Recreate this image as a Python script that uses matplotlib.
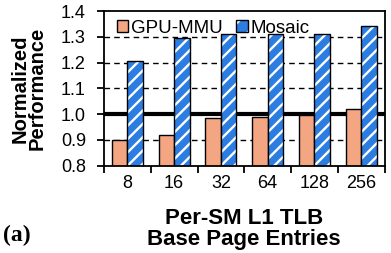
import matplotlib
matplotlib.use("Agg")
import matplotlib.pyplot as plt
from matplotlib.patches import Patch
from matplotlib.legend_handler import HandlerTuple
import numpy as np

categories = ["8", "16", "32", "64", "128", "256"]
gpu_mmu = [0.90, 0.92, 0.985, 0.99, 0.995, 1.02]
mosaic = [1.205, 1.295, 1.31, 1.31, 1.31, 1.34]
series_names = ["GPU-MMU", "Mosaic"]
yticks = [0.8, 0.9, 1.0, 1.1, 1.2, 1.3, 1.4]

DPI = 120
S = 100.0 / DPI  # sizes below are expressed as points at 100 dpi

plt.rcParams['font.family'] = ['Liberation Sans', 'DejaVu Sans']
plt.rcParams['hatch.linewidth'] = 1.7 * S

orange = "#f4a582"
blue = "#2b7de2"

fig = plt.figure(figsize=(391 / DPI, 253 / DPI), dpi=DPI)
L, R, T, B = 104 / 391, 384.5 / 391, 1 - 11 / 253, 1 - 165.7 / 253
ax = fig.add_axes([L, B, R - L, T - B])

x = np.arange(len(categories))
w = 0.33

for yv in yticks[1:-1]:
    if abs(yv - 1.0) < 1e-9:
        ax.axhline(yv, color='black', lw=3.0 * S, zorder=1)
    else:
        ax.axhline(yv, color='black', lw=1.0 * S, ls=(0, (4, 3)), zorder=1)

ax.bar(x - w / 2, gpu_mmu, w, color=orange, edgecolor='black', lw=1.0 * S, zorder=2)
ax.bar(x + w / 2, mosaic, w, color=blue, edgecolor='white', lw=0, hatch='///', zorder=2)
ax.bar(x + w / 2, mosaic, w, fill=False, edgecolor='black', lw=1.0 * S, zorder=3)

h_orange = Patch(facecolor=orange, edgecolor='black', lw=1.0 * S)
h_blue = (Patch(facecolor=blue, edgecolor='white', hatch='//', lw=0),
          Patch(fill=False, edgecolor='black', lw=1.0 * S))
leg = ax.legend([h_orange, h_blue], series_names, loc='center left',
                bbox_to_anchor=(0.045, 0.89),
                handler_map={tuple: HandlerTuple(ndivide=1, pad=0)},
                ncol=2, frameon=False, fontsize=13.5 * S, handlelength=0.62,
                handleheight=0.62, handletextpad=0.15, columnspacing=0.7,
                borderpad=0, borderaxespad=0)

ax.set_xlim(-0.5, len(categories) - 0.5)
ax.set_ylim(0.8, 1.4)
ax.set_yticks(yticks)
ax.set_yticklabels([f"{v:.1f}" for v in yticks], fontsize=13 * S)
ax.set_xticks(x)
ax.set_xticklabels(categories, fontsize=13 * S)
ax.tick_params(axis='x', which='major', length=0, pad=7 * S)
ax.set_xticks(np.arange(len(categories) + 1) - 0.5, minor=True)
ax.tick_params(axis='x', which='minor', length=5 * S, width=1.3 * S, direction='out')
ax.tick_params(axis='y', length=5 * S, width=1.3 * S, direction='out', pad=8 * S)
for s in ax.spines.values():
    s.set_linewidth(1.3 * S)

ax.set_xlabel("Per-SM L1 TLB\nBase Page Entries", fontsize=16 * S, fontweight='bold',
              linespacing=1.05, labelpad=11 * S)
ax.set_ylabel("Normalized\nPerformance", fontsize=14.5 * S, fontweight='bold',
              linespacing=0.9, labelpad=10 * S)

fig.text(0.008, 1 - 241 / 253, "(a)", fontsize=17 * S, fontweight='bold',
         family=['Liberation Serif', 'DejaVu Serif'], va='baseline')

fig.savefig("out.png", dpi=DPI)
